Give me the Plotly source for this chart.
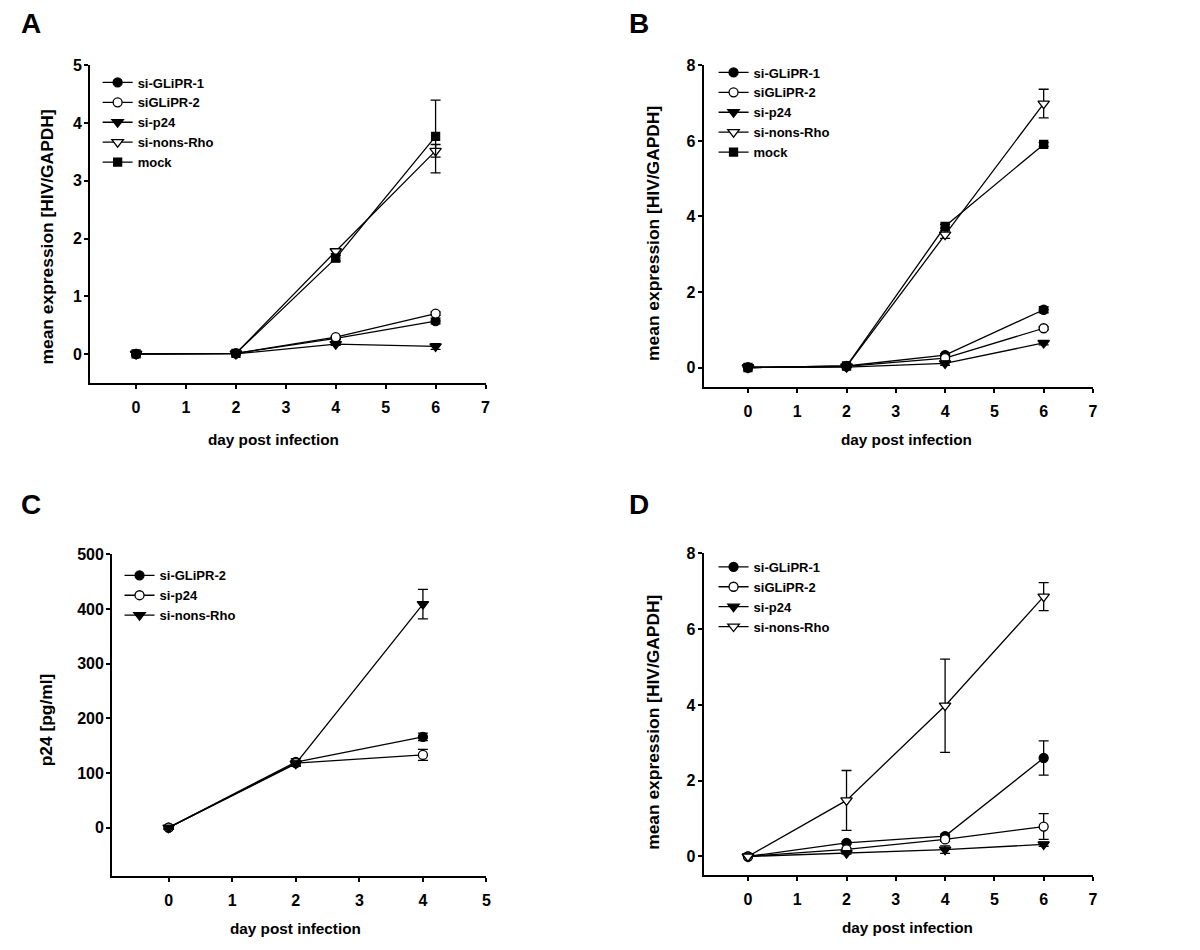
import plotly.graph_objects as go

W, H = 1200, 950

days = [0, 2, 4, 6]
days_c = [0, 2, 4]

# Panel A
a_glipr1 = [0, 0.01, 0.27, 0.57]; a_glipr1_err = [0, 0, 0.02, 0.05]
a_glipr2 = [0, 0.01, 0.29, 0.70]; a_glipr2_err = [0, 0, 0.02, 0.03]
a_p24 = [0, 0.0, 0.17, 0.13]; a_p24_err = [0, 0, 0.02, 0.05]
a_rho = [0, 0.01, 1.78, 3.52]; a_rho_err = [0, 0, 0.04, 0.11]
a_mock = [0, 0.01, 1.66, 3.77]; a_mock_err = [0, 0, 0.05, 0.63]

# Panel B
b_glipr1 = [0, 0.04, 0.33, 1.53]; b_glipr1_err = [0, 0.02, 0.04, 0.08]
b_glipr2 = [0, 0.03, 0.25, 1.04]; b_glipr2_err = [0, 0.02, 0.03, 0.04]
b_p24 = [0, 0.01, 0.11, 0.65]; b_p24_err = [0, 0.01, 0.05, 0.05]
b_rho = [0, 0.03, 3.52, 6.99]; b_rho_err = [0, 0.02, 0.10, 0.38]
b_mock = [0, 0.04, 3.74, 5.91]; b_mock_err = [0, 0.02, 0.05, 0.05]

# Panel C
c_glipr2 = [0, 120, 166]; c_glipr2_err = [3, 6, 7]
c_p24 = [0, 118, 133]; c_p24_err = [3, 5, 10]
c_rho = [0, 117, 409]; c_rho_err = [3, 5, 27]

# Panel D
d_glipr1 = [0, 0.36, 0.54, 2.60]; d_glipr1_err = [0, 0.03, 0.05, 0.45]
d_glipr2 = [0, 0.19, 0.45, 0.79]; d_glipr2_err = [0, 0.03, 0.05, 0.34]
d_p24 = [0, 0.09, 0.18, 0.32]; d_p24_err = [0, 0.03, 0.10, 0.05]
d_rho = [0, 1.48, 3.98, 6.86]; d_rho_err = [0, 0.79, 1.23, 0.37]

FONT = "Liberation Sans, Arial, sans-serif"

FILLED_CIRCLE = dict(symbol="circle", color="black", size=9, line=dict(color="black", width=1.3))
OPEN_CIRCLE = dict(symbol="circle", color="white", size=9, line=dict(color="black", width=1.3))
FILLED_TRI = dict(symbol="triangle-down", color="black", size=10, line=dict(color="black", width=1.3))
OPEN_TRI = dict(symbol="triangle-down", color="white", size=10, line=dict(color="black", width=1.3))
FILLED_SQ = dict(symbol="square", color="black", size=8, line=dict(color="black", width=1.3))

fig = go.Figure()


def add(x, y, err, name, marker, xa, ya, legend):
    fig.add_trace(go.Scatter(
        x=x, y=y, name=name, mode="lines+markers",
        line=dict(color="black", width=1.3),
        marker=marker,
        error_y=dict(type="data", array=err, visible=True, color="black", thickness=1.3, width=5),
        xaxis=xa, yaxis=ya, legend=legend,
    ))


add(days, a_glipr1, a_glipr1_err, "si-GLiPR-1", FILLED_CIRCLE, "x", "y", "legend")
add(days, a_glipr2, a_glipr2_err, "siGLiPR-2", OPEN_CIRCLE, "x", "y", "legend")
add(days, a_p24, a_p24_err, "si-p24", FILLED_TRI, "x", "y", "legend")
add(days, a_rho, a_rho_err, "si-nons-Rho", OPEN_TRI, "x", "y", "legend")
add(days, a_mock, a_mock_err, "mock", FILLED_SQ, "x", "y", "legend")

add(days, b_glipr1, b_glipr1_err, "si-GLiPR-1", FILLED_CIRCLE, "x2", "y2", "legend2")
add(days, b_glipr2, b_glipr2_err, "siGLiPR-2", OPEN_CIRCLE, "x2", "y2", "legend2")
add(days, b_p24, b_p24_err, "si-p24", FILLED_TRI, "x2", "y2", "legend2")
add(days, b_rho, b_rho_err, "si-nons-Rho", OPEN_TRI, "x2", "y2", "legend2")
add(days, b_mock, b_mock_err, "mock", FILLED_SQ, "x2", "y2", "legend2")

add(days_c, c_glipr2, c_glipr2_err, "si-GLiPR-2", FILLED_CIRCLE, "x3", "y3", "legend3")
add(days_c, c_p24, c_p24_err, "si-p24", OPEN_CIRCLE, "x3", "y3", "legend3")
add(days_c, c_rho, c_rho_err, "si-nons-Rho", FILLED_TRI, "x3", "y3", "legend3")

add(days, d_glipr1, d_glipr1_err, "si-GLiPR-1", FILLED_CIRCLE, "x4", "y4", "legend4")
add(days, d_glipr2, d_glipr2_err, "siGLiPR-2", OPEN_CIRCLE, "x4", "y4", "legend4")
add(days, d_p24, d_p24_err, "si-p24", FILLED_TRI, "x4", "y4", "legend4")
add(days, d_rho, d_rho_err, "si-nons-Rho", OPEN_TRI, "x4", "y4", "legend4")

# pixel -> paper helpers (with a small empirical correction for page offset)
DX = 5.5
DY = 15.4
SY = 0.9938


def px_x(p):
    return (p - DX) / W


def px_y(p):
    return 1 - ((p - DY) / SY) / H


TICKFONT = dict(family=FONT, size=16, color="black", weight="bold")


def axis_x(l, r, rng, tickvals, anchor):
    return dict(domain=[px_x(l), px_x(r)], range=rng, tickvals=tickvals,
                showline=True, linecolor="black", linewidth=2, ticks="outside",
                ticklen=4, tickwidth=1.6, tickcolor="black", showgrid=False, zeroline=False,
                tickfont=TICKFONT, ticklabelstandoff=5, anchor=anchor)


def axis_y(t, b, rng, tickvals, anchor):
    return dict(domain=[px_y(b), px_y(t)], range=rng, tickvals=tickvals,
                showline=True, linecolor="black", linewidth=2, ticks="outside",
                ticklen=4, tickwidth=1.6, tickcolor="black", showgrid=False, zeroline=False,
                tickfont=TICKFONT, ticklabelstandoff=-1, anchor=anchor)


ticks07 = [0, 1, 2, 3, 4, 5, 6, 7]

fig.update_layout(
    width=W, height=H,
    margin=dict(l=0, r=0, t=0, b=0),
    paper_bgcolor="white", plot_bgcolor="white",
    xaxis=axis_x(88, 485, [-0.92, 7], ticks07, "y"),
    yaxis=axis_y(65, 383, [-0.5, 5], [0, 1, 2, 3, 4, 5], "x"),
    xaxis2=axis_x(704, 1095, [-0.9, 7], ticks07, "y2"),
    yaxis2=axis_y(65, 387, [-0.51, 8], [0, 2, 4, 6, 8], "x2"),
    xaxis3=axis_x(110, 486, [-0.89, 5], [0, 1, 2, 3, 4, 5], "y3"),
    yaxis3=axis_y(555, 877, [-88, 500], [0, 100, 200, 300, 400, 500], "x3"),
    xaxis4=axis_x(704, 1095, [-0.9, 7], ticks07, "y4"),
    yaxis4=axis_y(554, 876, [-0.48, 8], [0, 2, 4, 6, 8], "x4"),
    showlegend=True,
)

leg_common = dict(bgcolor="rgba(0,0,0,0)", borderwidth=0, xanchor="left", yanchor="top",
                  font=dict(family=FONT, size=13, color="black", weight="bold"),
                  itemclick=False, tracegroupgap=0)
fig.update_layout(
    legend=dict(x=px_x(95.5), y=px_y(67), **leg_common),
    legend2=dict(x=px_x(714), y=px_y(57), **leg_common),
    legend3=dict(x=px_x(117.5), y=px_y(561), **leg_common),
    legend4=dict(x=px_x(714), y=px_y(552.5), **leg_common),
)

ann = []
for txt, x, y in [("A", 17, 22.5), ("B", 627, 22.5), ("C", 17, 505), ("D", 627, 505)]:
    ann.append(dict(text=txt, x=px_x(x), y=px_y(y), xref="paper", yref="paper",
                    xanchor="left", yanchor="middle", showarrow=False,
                    font=dict(family=FONT, size=28, color="black", weight="bold")))

XTITLE_FONT = dict(family=FONT, size=15.3, color="black", weight="bold")
YTITLE_FONT = dict(family=FONT, size=17.4, color="black", weight="bold")
for txt, x, y in [("day post infection", 272, 440), ("day post infection", 908, 440),
                  ("day post infection", 294, 930), ("day post infection", 909, 929)]:
    ann.append(dict(text=txt, x=px_x(x), y=px_y(y), xref="paper", yref="paper",
                    xanchor="center", yanchor="middle", showarrow=False, font=XTITLE_FONT))
for txt, x, y in [("mean expression [HIV/GAPDH]", 45, 237), ("mean expression [HIV/GAPDH]", 653, 233),
                  ("p24 [pg/ml]", 44, 721), ("mean expression [HIV/GAPDH]", 653, 723)]:
    ann.append(dict(text=txt, x=px_x(x), y=px_y(y), xref="paper", yref="paper",
                    xanchor="center", yanchor="middle", showarrow=False, textangle=-90, font=YTITLE_FONT))
fig.update_layout(annotations=ann)

fig.write_html("out.html")
